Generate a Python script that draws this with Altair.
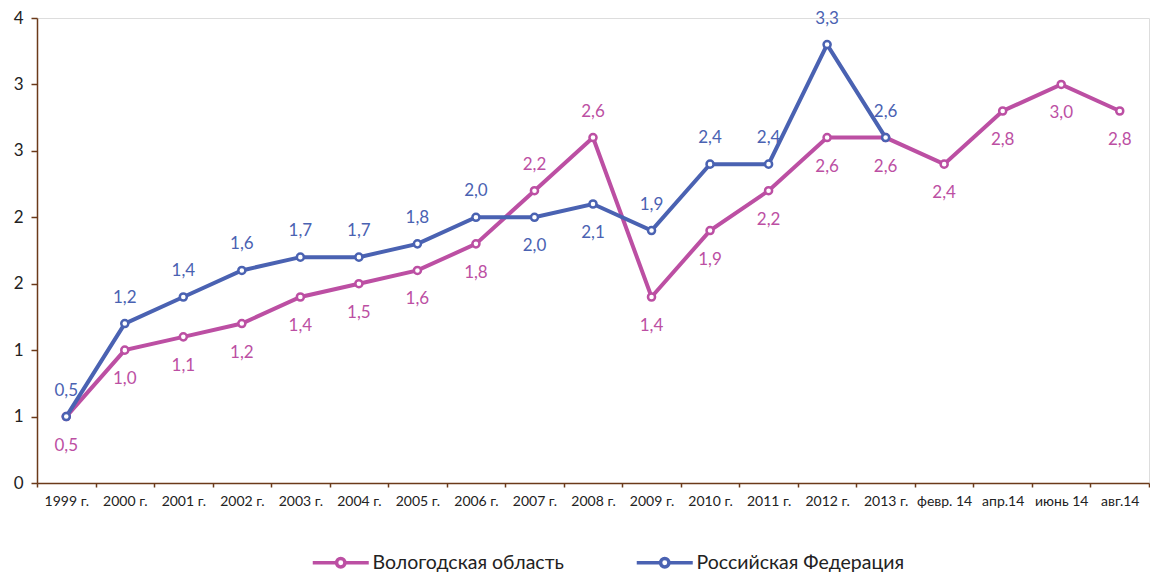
import altair as alt
import pandas as pd

categories = ["1999 г.", "2000 г.", "2001 г.", "2002 г.", "2003 г.", "2004 г.", "2005 г.",
              "2006 г.", "2007 г.", "2008 г.", "2009 г.", "2010 г.", "2011 г.", "2012 г.",
              "2013 г.", "февр. 14", "апр.14", "июнь 14", "авг.14"]
vologda = [0.5, 1.0, 1.1, 1.2, 1.4, 1.5, 1.6, 1.8, 2.2, 2.6, 1.4, 1.9, 2.2, 2.6, 2.6,
           2.4, 2.8, 3.0, 2.8]
russia = [0.5, 1.2, 1.4, 1.6, 1.7, 1.7, 1.8, 2.0, 2.0, 2.1, 1.9, 2.4, 2.4, 3.3, 2.6,
          None, None, None, None]
series_names = ["Вологодская область", "Российская Федерация"]
series_colors = ["#BC4FA3", "#4A62B2"]
y_ticks = [0, 0.5, 1.0, 1.5, 2.0, 2.5, 3.0, 3.5]

rows = []
for i, c in enumerate(categories):
    v, r = vologda[i], russia[i]
    if v is not None:
        rows.append({"cat": c, "series": series_names[0], "value": v,
                     "above": r is not None and v > r})
    if r is not None:
        rows.append({"cat": c, "series": series_names[1], "value": r,
                     "above": v is None or r >= v})
df = pd.DataFrame(rows)
df["label"] = df["value"].map(lambda x: f"{x:.1f}".replace(".", ","))
df["series_pt"] = df["series"]
df["series_txt"] = df["series"]

FONT = "Lato"
AXIS_COLOR = "#6B3A1A"

color_scale = alt.Scale(domain=series_names, range=series_colors)

legend_path = ("M-4,0 L-0.6,0 M0.6,0 L4,0 "
               "M-0.6,0 A0.6,0.6 0 1,1 0.6,0 A0.6,0.6 0 1,1 -0.6,0 Z")

base = alt.Chart(df).encode(
    x=alt.X("cat:N", sort=categories, title=None,
            scale=alt.Scale(paddingInner=0, paddingOuter=0),
            axis=alt.Axis(labelAngle=0, tickBand="extent", domainColor=AXIS_COLOR,
                          tickColor=AXIS_COLOR, domainWidth=1.5, tickWidth=1.5,
                          tickSize=4, labelFontSize=14, labelColor="#222222",
                          labelFont=FONT, labelPadding=7)),
    y=alt.Y("value:Q", title=None,
            scale=alt.Scale(domain=[0, 3.5], nice=False),
            axis=alt.Axis(values=y_ticks, format=".0f", domainColor=AXIS_COLOR,
                          tickColor=AXIS_COLOR, domainWidth=1.5, tickWidth=1.5,
                          tickSize=6, labelFontSize=17, labelColor="#222222",
                          labelFont=FONT, labelPadding=8, grid=False)),
)

lines = base.mark_line(strokeWidth=4).encode(
    color=alt.Color("series:N", scale=color_scale, title=None,
                    legend=alt.Legend(orient="none", legendX=294, legendY=535,
                                      direction="horizontal", columns=2,
                                      symbolType=legend_path, symbolSize=196,
                                      symbolStrokeWidth=3.5, symbolFillColor="white",
                                      labelFontSize=19.5, labelFont=FONT, labelLimit=0,
                                      labelColor="#222222", labelOffset=22,
                                      columnPadding=65)))
points = base.mark_point(filled=False, fill="white", size=50, strokeWidth=2.5, opacity=1).encode(
    stroke=alt.Stroke("series_pt:N", scale=color_scale, legend=None))

labels_above = base.transform_filter("datum.above").mark_text(
    dy=-26, fontSize=17, font=FONT).encode(
    text="label:N", fill=alt.Fill("series_txt:N", scale=color_scale, legend=None))
labels_below = base.transform_filter("!datum.above").mark_text(
    dy=29, fontSize=17, font=FONT).encode(
    text="label:N", fill=alt.Fill("series_txt:N", scale=color_scale, legend=None))

chart = alt.layer(lines, points, labels_above, labels_below).properties(
    width=1112, height=465,
    padding={"left": 5, "top": 1, "right": 0, "bottom": 0},
).resolve_scale(stroke="independent", fill="independent").configure_view(
    stroke=None).configure(background="white")

chart.save("out.html", embed_options={"renderer": "svg", "actions": False})
